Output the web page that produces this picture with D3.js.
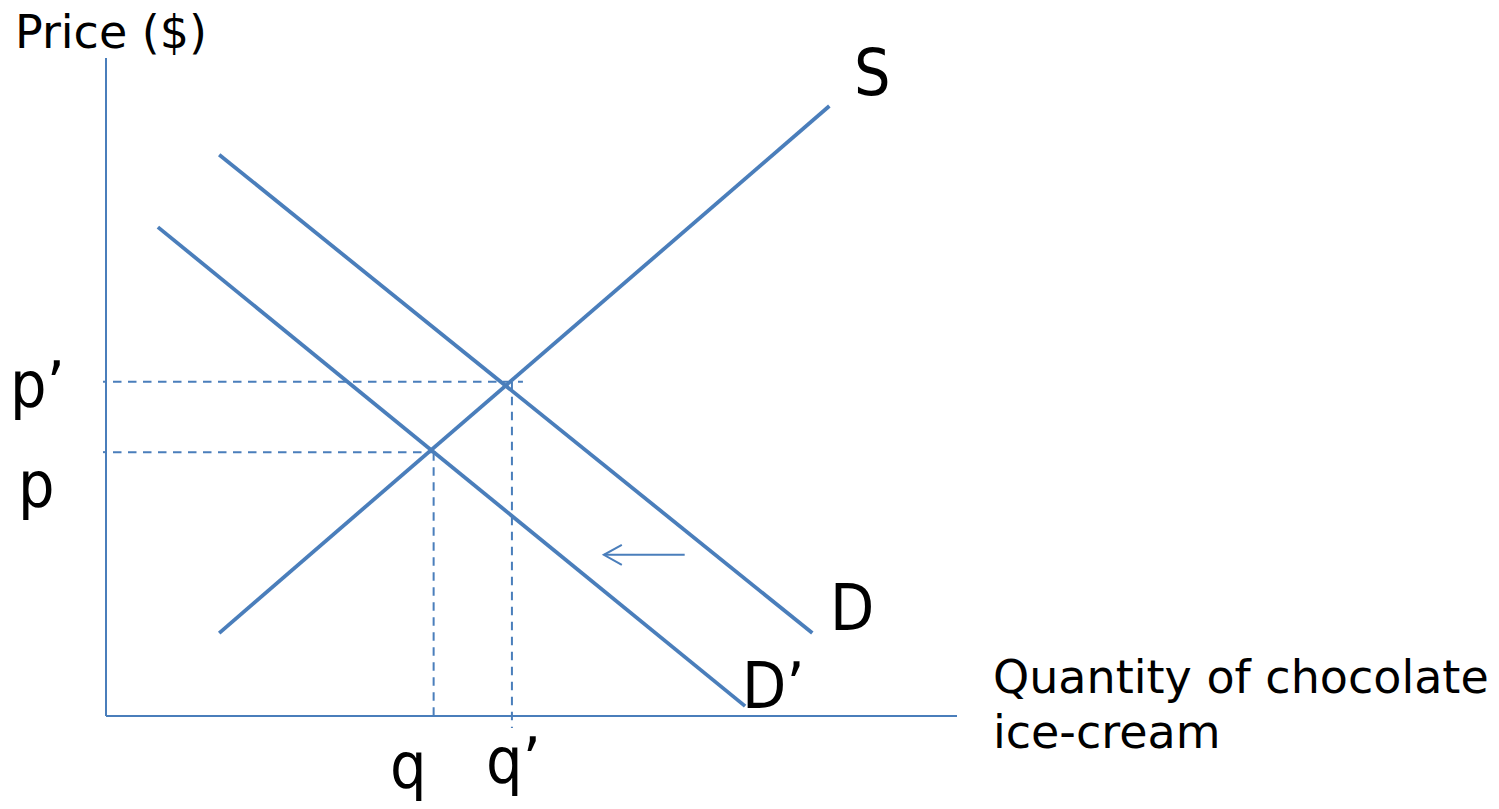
<!DOCTYPE html>
<html><head><meta charset="utf-8">
<script src="https://cdn.jsdelivr.net/npm/d3@7"></script>
<style>html,body{margin:0;padding:0;background:#fff;} text{font-family:"DejaVu Sans Condensed","DejaVu Sans",sans-serif;fill:#000;}</style>
</head><body>
<svg id="c" width="1499" height="809"></svg>
<script>
// Abstract units (0..10 on both axes)
const supplyS = [[1.33, 1.26], [8.50, 9.27]];
const demandD = [[1.33, 8.53], [8.30, 1.26]];
const demandD2 = [[0.61, 7.43], [7.51, 0.15]];
const priceLevels = [{name: "p\u2019", value: 5.08, q: 4.77}, {name: "p", value: 4.01, q: 3.85}];
const quantityLevels = [{name: "q", value: 3.85, p: 4.01}, {name: "q\u2019", value: 4.77, p: 5.08}];
const shiftArrow = [[6.80, 2.45], [5.85, 2.45]];
const axisLabels = ["Price ($)", "Quantity of chocolate", "ice-cream"];
const curveLabels = ["S", "D", "D\u2019"];

const svg = d3.select("#c");
const x = d3.scaleLinear().domain([0, 10]).range([106, 957]);
const y = d3.scaleLinear().domain([0, 10]).range([716, 58]);
const blue = "#4a7ebb";

// axes
svg.append("line").attr("x1", x(0)).attr("x2", x(0)).attr("y1", y(10)).attr("y2", y(0)).attr("stroke", blue).attr("stroke-width", 2);
svg.append("line").attr("x1", x(0)).attr("x2", x(10)).attr("y1", y(0)).attr("y2", y(0)).attr("stroke", blue).attr("stroke-width", 2);

// dashed guides
priceLevels.forEach(d => {
  svg.append("line").attr("x1", x(0) - 3).attr("x2", x(0))
    .attr("y1", y(d.value)).attr("y2", y(d.value))
    .attr("stroke", blue).attr("stroke-width", 2);
  svg.append("line").attr("x1", x(0) + 7).attr("x2", x(d.q) + (d.name === "p" ? 2 : 11))
    .attr("y1", y(d.value)).attr("y2", y(d.value))
    .attr("stroke", blue).attr("stroke-width", 2).attr("stroke-dasharray", "8.5,6.5");
});
quantityLevels.forEach(d => {
  svg.append("line").attr("x1", x(d.value)).attr("x2", x(d.value))
    .attr("y1", y(d.p)).attr("y2", y(0) + (d.name === "q" ? 0 : 12))
    .attr("stroke", blue).attr("stroke-width", 2).attr("stroke-dasharray", "8.5,6.5");
});

const line = d3.line().x(d => x(d[0])).y(d => y(d[1]));
[supplyS, demandD, demandD2].forEach(pts => {
  svg.append("path").attr("d", line(pts)).attr("fill", "none").attr("stroke", blue).attr("stroke-width", 3.8);
});

// arrow
svg.append("path").attr("d", line(shiftArrow)).attr("stroke", blue).attr("stroke-width", 2).attr("fill", "none");
const ax = x(shiftArrow[1][0]), ay = y(shiftArrow[1][1]);
svg.append("path").attr("d", `M${ax + 18},${ay - 10} L${ax},${ay} L${ax + 18},${ay + 10}`)
  .attr("stroke", blue).attr("stroke-width", 2).attr("fill", "none");

// labels
const reg = "'DejaVu Sans',sans-serif";
svg.append("text").attr("x", 15).attr("y", 48).attr("font-size", 46).style("font-family", reg).text(axisLabels[0]);
svg.append("text").attr("x", 993).attr("y", 693).attr("font-size", 46).style("font-family", reg).text(axisLabels[1]);
svg.append("text").attr("x", 993).attr("y", 748).attr("font-size", 46).style("font-family", reg).text(axisLabels[2]);
svg.append("text").attr("x", 854).attr("y", 95).attr("font-size", 64).text(curveLabels[0]);
svg.append("text").attr("x", 830).attr("y", 630).attr("font-size", 64).text(curveLabels[1]);
svg.append("text").attr("x", 742).attr("y", 708).attr("font-size", 64).text(curveLabels[2]);
svg.append("text").attr("x", 10).attr("y", 407).attr("font-size", 64).text(priceLevels[0].name);
svg.append("text").attr("x", 18).attr("y", 507).attr("font-size", 64).text(priceLevels[1].name);
svg.append("text").attr("x", 390).attr("y", 788).attr("font-size", 64).text(quantityLevels[0].name);
svg.append("text").attr("x", 486).attr("y", 783).attr("font-size", 64).text(quantityLevels[1].name);
</script>
</body></html>
